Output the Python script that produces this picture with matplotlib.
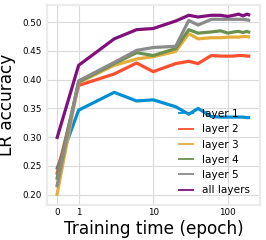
import matplotlib
matplotlib.use('Agg')
import matplotlib.pyplot as plt

# Data
epochs = [0, 1, 3, 6, 10, 20, 30, 40, 60, 80, 100, 120, 140, 160, 180, 200]
layer1 = [0.244, 0.347, 0.378, 0.363, 0.365, 0.353, 0.340, 0.350, 0.336, 0.335, 0.335, 0.335, 0.335, 0.335, 0.334, 0.334]
layer2 = [0.235, 0.390, 0.410, 0.429, 0.414, 0.428, 0.432, 0.428, 0.442, 0.441, 0.441, 0.441, 0.442, 0.442, 0.441, 0.441]
layer3 = [0.198, 0.395, 0.425, 0.436, 0.440, 0.449, 0.480, 0.471, 0.473, 0.473, 0.474, 0.474, 0.474, 0.475, 0.475, 0.474]
layer4 = [0.226, 0.396, 0.428, 0.447, 0.442, 0.454, 0.487, 0.481, 0.483, 0.485, 0.481, 0.483, 0.484, 0.482, 0.484, 0.482]
layer5 = [0.213, 0.398, 0.430, 0.451, 0.456, 0.458, 0.503, 0.495, 0.505, 0.505, 0.505, 0.505, 0.505, 0.505, 0.504, 0.503]
all_layers = [0.297, 0.425, 0.471, 0.487, 0.489, 0.502, 0.512, 0.509, 0.512, 0.512, 0.510, 0.512, 0.514, 0.511, 0.514, 0.512]

labels = ['layer 1', 'layer 2', 'layer 3', 'layer 4', 'layer 5', 'all layers']
colors = ['#008fd5', '#fc4f30', '#e5ae38', '#6d904f', '#8b8b8b', '#810f7c']
xticks = [0, 1, 10, 100]
xticklabels = ['0', '1', '10', '100']

plt.style.use('fivethirtyeight')
plt.rcParams['font.family'] = ['DejaVu Sans']

fig = plt.figure(figsize=(2.66, 2.40), dpi=100, facecolor='white')
ax = fig.add_axes([0.177, 0.146, 0.800, 0.833])
ax.set_facecolor('white')

series = [layer1, layer2, layer3, layer4, layer5, all_layers]
for ys, lab, c in zip(series, labels, colors):
    ax.plot(epochs, ys, color=c, lw=2.3, label=lab)

ax.set_xscale('symlog', linthresh=1, linscale=0.264)
ax.set_xticks(xticks)
ax.set_xticklabels(xticklabels)
ax.minorticks_off()
ax.set_yticks([0.20, 0.25, 0.30, 0.35, 0.40, 0.45, 0.50])

ax.grid(True, color='#dadada', lw=0.8)
for s in ax.spines.values():
    s.set_visible(True)
    s.set_color('#ebebeb')
    s.set_linewidth(1.6)

ax.tick_params(axis='both', length=0, labelsize=6.3)
ax.tick_params(axis='y', pad=4)
ax.tick_params(axis='x', pad=2)

ax.set_xlabel('Training time (epoch)', fontsize=12.2, labelpad=2)
ax.set_ylabel('LR accuracy', fontsize=12.2, labelpad=4)

leg = ax.legend(loc='lower right', frameon=False, fontsize=7.6,
                handlelength=1.5, handletextpad=0.8, borderaxespad=0.5)
for h in leg.get_lines():
    h.set_linewidth(1.3)

fig.savefig('out.png', dpi=100, facecolor='white')
